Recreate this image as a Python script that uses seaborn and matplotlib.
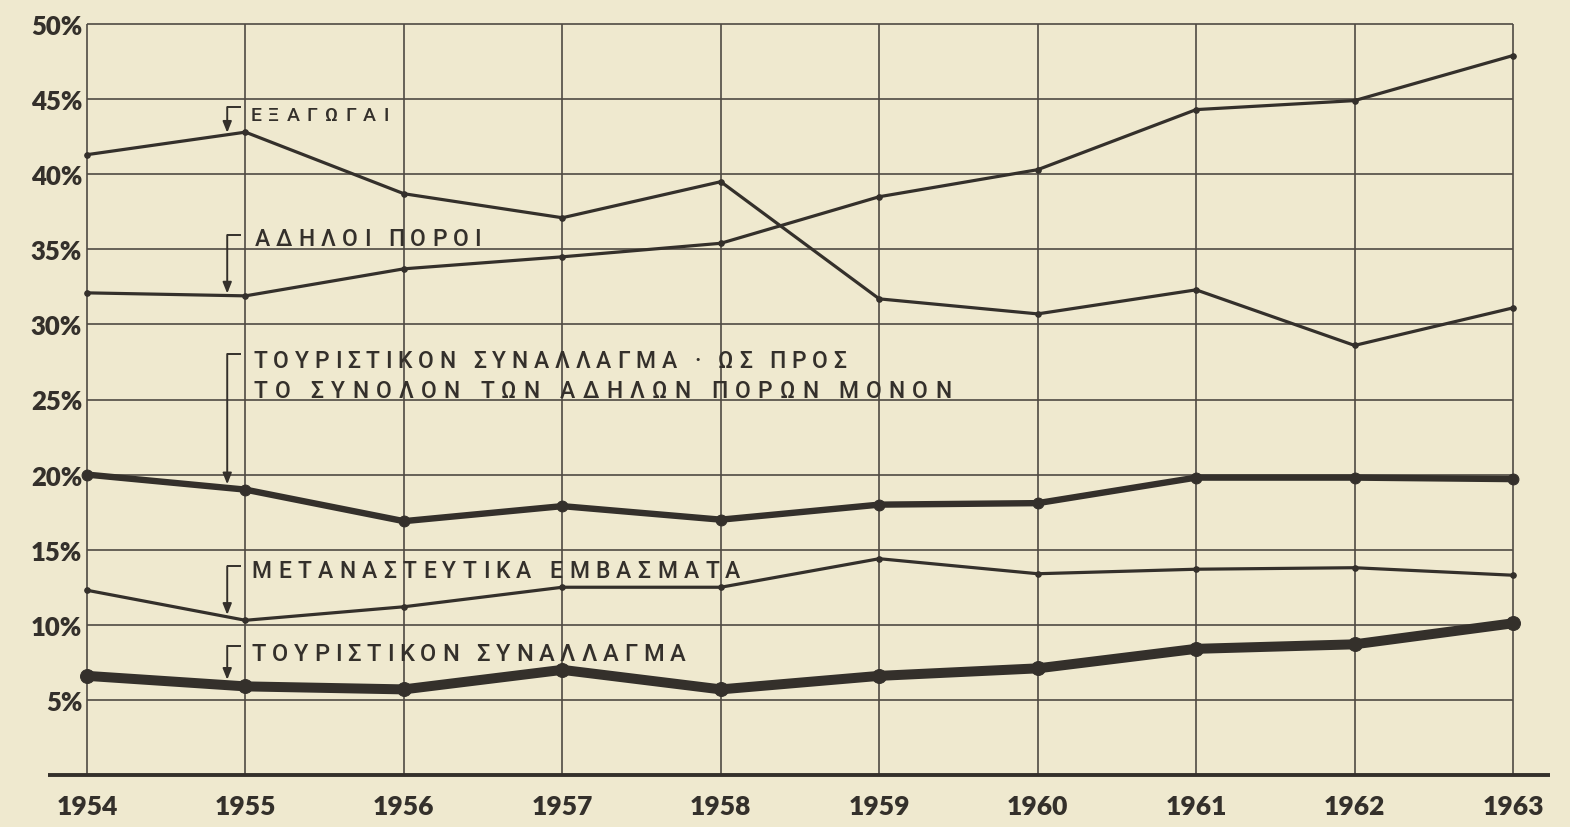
import matplotlib
matplotlib.use("Agg")
import numpy as np
import pandas as pd
import matplotlib.pyplot as plt
import seaborn as sns
from matplotlib.font_manager import FontProperties, findfont, get_font

# ---- data (percent shares, 1954-1963) ----
years = [1954, 1955, 1956, 1957, 1958, 1959, 1960, 1961, 1962, 1963]
exports = [41.3, 42.8, 38.7, 37.1, 39.5, 31.7, 30.7, 32.3, 28.6, 31.1]
invisibles = [32.1, 31.9, 33.7, 34.5, 35.4, 38.5, 40.3, 44.3, 44.9, 47.9]
tourism_of_invisibles = [20.0, 19.0, 16.9, 17.9, 17.0, 18.0, 18.1, 19.8, 19.8, 19.7]
emigrant_remittances = [12.3, 10.3, 11.2, 12.5, 12.5, 14.4, 13.4, 13.7, 13.8, 13.3]
tourism = [6.6, 5.9, 5.7, 7.0, 5.7, 6.6, 7.1, 8.4, 8.7, 10.1]

y_ticks = [5, 10, 15, 20, 25, 30, 35, 40, 45, 50]
y_tick_labels = ["5%", "10%", "15%", "20%", "25%", "30%", "35%", "40%", "45%", "50%"]
x_tick_labels = ["1954", "1955", "1956", "1957", "1958", "1959", "1960", "1961", "1962", "1963"]

label_exports = "ΕΞΑΓΩΓΑΙ"
label_invisibles = "ΑΔΗΛΟΙ ΠΟΡΟΙ"
label_tourism_share = ["ΤΟΥΡΙΣΤΙΚΟΝ ΣΥΝΑΛΛΑΓΜΑ · ΩΣ ΠΡΟΣ", "ΤΟ ΣΥΝΟΛΟΝ ΤΩΝ ΑΔΗΛΩΝ ΠΟΡΩΝ ΜΟΝΟΝ"]
label_remittances = "ΜΕΤΑΝΑΣΤΕΥΤΙΚΑ ΕΜΒΑΣΜΑΤΑ"
label_tourism = "ΤΟΥΡΙΣΤΙΚΟΝ ΣΥΝΑΛΛΑΓΜΑ"

# ---- style ----
sns.set_theme(style="white")
plt.rcParams["font.family"] = ["Roboto", "DejaVu Sans"]

PAPER = "#efe9cf"
INK = "#34302b"
GRID = "#4f4a43"
LABEL_FONT = ["Roboto", "DejaVu Sans"]
LABEL_WEIGHT = "medium"

W, H = 1570, 828
fig = plt.figure(figsize=(W / 100, H / 100), dpi=100, facecolor=PAPER)
ax = fig.add_axes([87 / W, 52 / H, (1513 - 87) / W, (803 - 52) / H])
ax.set_facecolor(PAPER)
ax.set_xlim(1954, 1963)
ax.set_ylim(0, 50)
for s in ax.spines.values():
    s.set_visible(False)

# grid: horizontal every 5 %, vertical at every year
ax.hlines(y_ticks, years[0], years[-1], color=GRID, lw=1.2, zorder=1, clip_on=False)
ax.vlines(years, 0, 50, color=GRID, lw=1.2, zorder=1, clip_on=False)
# heavy base line, running a little past both ends
ax.plot([-0.0275, 1.026], [0, 0], transform=ax.get_yaxis_transform(),
        color=INK, lw=2.8, solid_capstyle="butt", clip_on=False, zorder=3)

# ---- series ----
series = [
    (exports, 2.3, 4.0),
    (invisibles, 2.3, 4.0),
    (tourism_of_invisibles, 4.6, 7.8),
    (emigrant_remittances, 2.3, 4.0),
    (tourism, 7.2, 10.0),
]
for vals, lw, ms in series:
    sns.lineplot(x=years, y=vals, ax=ax, color=INK, lw=lw, marker="o", ms=ms,
                 mec=INK, mfc=INK, clip_on=False, zorder=4)

# ---- axis labels ----
num_font = dict(family=["Lato", "DejaVu Sans"], weight="heavy")
ax.set_xticks(years)
ax.set_xticklabels(x_tick_labels, fontsize=19, color=INK, **num_font)
ax.set_yticks(y_ticks)
ax.set_yticklabels(y_tick_labels, fontsize=18.5, color=INK, **num_font)
ax.tick_params(axis="x", length=0, pad=14)
ax.tick_params(axis="y", length=0, pad=3.5)


def spaced_text(x0, x1, y, s, size):
    """Draw s letter by letter on baseline y, tracked out to span x0..x1 (data)."""
    fp = FontProperties(family=LABEL_FONT, size=size, weight=LABEL_WEIGHT)
    font = get_font(findfont(fp))
    font.set_size(size, fig.dpi)
    advs = []
    for c in s:
        g = font.load_char(ord(c))
        try:
            advs.append(g.linearHoriAdvance / 65536.0)
        except AttributeError:
            advs.append(g.horiAdvance / 64.0)
    p0 = ax.transData.transform((x0, y))
    p1 = ax.transData.transform((x1, y))
    extra = (p1[0] - p0[0] - sum(advs[:-1]) - advs[-1] * 0.85) / max(len(s) - 1, 1)
    inv = ax.transData.inverted()
    xp = p0[0]
    for c, a in zip(s, advs):
        if c != " ":
            xd = inv.transform((xp, p0[1]))[0]
            ax.text(xd, y, c, family=LABEL_FONT, fontsize=size,
                    fontweight=LABEL_WEIGHT, color=INK,
                    ha="left", va="baseline", zorder=6, clip_on=False)
        xp += a + extra


def bracket(vals, top, lw_target):
    """Small corner bracket with an arrow dropping onto a series near 1955."""
    xa = 1954.885
    tip = float(np.interp(xa, years, vals))
    ax.plot([xa, 1954.97], [top, top], color=INK, lw=1.4, zorder=6,
            solid_capstyle="butt")
    ax.annotate("", xy=(xa, tip), xytext=(xa, top),
                arrowprops=dict(arrowstyle="-|>,head_length=0.55,head_width=0.22",
                                color=INK, lw=1.4, shrinkA=0,
                                shrinkB=lw_target / 2 + 0.3),
                zorder=6)


bracket(exports, 44.47, 2.3)
spaced_text(1955.03, 1955.90, 43.6, label_exports, 14)

bracket(invisibles, 35.95, 2.3)
spaced_text(1955.06, 1956.48, 35.3, label_invisibles, 16.5)

bracket(tourism_of_invisibles, 28.03, 4.6)
spaced_text(1955.05, 1958.78, 27.15, label_tourism_share[0], 16.5)
spaced_text(1955.05, 1959.44, 25.15, label_tourism_share[1], 16.5)

bracket(emigrant_remittances, 13.9, 2.3)
spaced_text(1955.04, 1958.11, 13.2, label_remittances, 16.5)

bracket(tourism, 8.6, 7.2)
spaced_text(1955.04, 1957.76, 7.65, label_tourism, 17)

fig.savefig("out.png", dpi=100, facecolor=PAPER)
